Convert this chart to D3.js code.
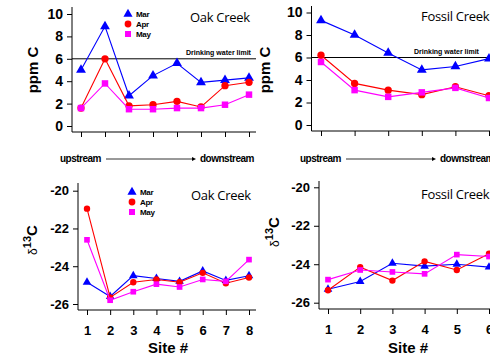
<!doctype html>
<html>
<head>
<meta charset="utf-8">
<script src="https://d3js.org/d3.v7.min.js"></script>
<style>
  body { margin: 0; background: #fff; }
  svg { display: block; font-family: "Liberation Sans", Arial, sans-serif; }
  .tick text { font-weight: bold; }
</style>
</head>
<body>
<div id="chart"></div>
<script>
// --- data ---
const months = ["Mar", "Apr", "May"];
const oakSites = [1, 2, 3, 4, 5, 6, 7, 8];
const fossilSites = [1, 2, 3, 4, 5, 6];

// ppm C
const oakPpmMar = [5.0, 8.9, 2.7, 4.5, 5.6, 3.9, 4.1, 4.3];
const oakPpmApr = [1.6, 6.0, 1.8, 1.9, 2.2, 1.7, 3.6, 3.9];
const oakPpmMay = [1.6, 3.8, 1.5, 1.5, 1.6, 1.6, 1.9, 2.8];
const fosPpmMar = [9.3, 8.0, 6.4, 4.9, 5.2, 5.9];
const fosPpmApr = [6.2, 3.7, 3.1, 2.7, 3.4, 2.6];
const fosPpmMay = [5.6, 3.1, 2.5, 2.9, 3.3, 2.4];

// delta 13C
const oakD13Mar = [-24.85, -25.6, -24.5, -24.65, -24.8, -24.25, -24.75, -24.5];
const oakD13Apr = [-20.95, -25.65, -24.85, -24.7, -24.85, -24.35, -24.9, -24.6];
const oakD13May = [-22.6, -25.8, -25.35, -24.95, -25.1, -24.7, -24.8, -23.65];
const fosD13Mar = [-25.3, -24.9, -23.95, -24.1, -24.0, -24.15];
const fosD13Apr = [-25.35, -24.15, -24.85, -23.85, -24.3, -23.45];
const fosD13May = [-24.8, -24.3, -24.4, -24.5, -23.5, -23.6];

const ppmTicks = [0, 2, 4, 6, 8, 10];
const d13Ticks = [-26, -24, -22, -20];
const drinkingLimit = 6;

const colors = { Mar: "#0000ff", Apr: "#ff0000", May: "#ff00ff" };
const shapes = { Mar: d3.symbolTriangle, Apr: d3.symbolCircle, May: d3.symbolSquare };

const svg = d3.select("#chart").append("svg")
  .attr("width", 490).attr("height", 356);

function panel(o) {
  const g = svg.append("g");
  const x = d3.scaleLinear().domain([o.sites[0], o.sites[o.sites.length - 1]]).range(o.xr);
  const y = d3.scaleLinear().domain(o.ydom).range(o.yr);

  // axes (tick marks and labels from d3, axis lines drawn longer like the original)
  const ya = g.append("g").attr("transform", `translate(${o.axX},0)`)
    .call(d3.axisLeft(y).tickValues(o.yticks).tickSize(5).tickPadding(4).tickFormat(d => String(d)));
  ya.select(".domain").remove();
  ya.selectAll("text").style("font-size", o.ppm ? "14px" : "13px");
  g.append("line").attr("x1", o.axX).attr("x2", o.axX)
    .attr("y1", o.axTop).attr("y2", o.axY).attr("stroke", "#000");

  const xa = g.append("g").attr("transform", `translate(0,${o.axY})`)
    .call(d3.axisBottom(x).tickValues(o.sites).tickSize(5).tickPadding(11)
      .tickFormat(o.xlabels ? d3.format("d") : ""));
  xa.select(".domain").remove();
  xa.selectAll("text").style("font-size", "13px");
  g.append("line").attr("x1", o.axX).attr("x2", o.axRight)
    .attr("y1", o.axY).attr("y2", o.axY).attr("stroke", "#000");

  if (o.limit) {
    g.append("line").attr("x1", o.axX).attr("x2", o.axRight)
      .attr("y1", y(drinkingLimit)).attr("y2", y(drinkingLimit))
      .attr("stroke", "#000").attr("stroke-width", 1);
    g.append("text").attr("x", o.limitX).attr("y", y(drinkingLimit) - 4)
      .style("font-size", "7px").style("font-weight", "bold")
      .text("Drinking water limit");
  }

  const line = d3.line().x((d, i) => x(o.sites[i])).y(d => y(d));
  months.forEach((m, k) => {
    const vals = o.series[k];
    g.append("path").attr("d", line(vals)).attr("fill", "none")
      .attr("stroke", colors[m]).attr("stroke-width", 1.1);
    g.selectAll(null).data(vals).enter().append("path")
      .attr("transform", (d, i) => `translate(${x(o.sites[i])},${y(d)})`)
      .attr("d", d3.symbol().type(shapes[m]).size(o.msize))
      .attr("fill", colors[m]);
  });

  g.append("text").attr("x", o.titleX).attr("y", o.titleY)
    .style("font-family", "'Open Sans', sans-serif").style("font-size", "13px")
    .style("letter-spacing", "-0.3px").text(o.title);

  if (o.legend) {
    months.forEach((m, k) => {
      const ly = o.legend[1] + k * 10;
      g.append("path").attr("transform", `translate(${o.legend[0]},${ly})`)
        .attr("d", d3.symbol().type(shapes[m]).size(36)).attr("fill", colors[m]);
      g.append("text").attr("x", o.legend[0] + 8).attr("y", ly + 3)
        .style("font-size", "8px").style("font-weight", "bold").style("letter-spacing", "-0.3px")
        .text(m);
    });
  }

  // y label
  const yl = g.append("text").attr("transform", `translate(${o.ylabX},${o.ylabY}) rotate(-90)`)
    .attr("text-anchor", "middle").style("font-weight", "bold").style("font-size", "15px");
  if (o.ppm) {
    yl.text("ppm C");
  } else {
    yl.append("tspan").style("font-size", "12px").style("font-weight", "normal").text("\u03b4");
    yl.append("tspan").attr("dy", -6).style("font-size", "11px").text("13");
    yl.append("tspan").attr("dy", 6).text("C");
  }

  if (o.stream) {
    const sy = o.stream[1];
    const sx = o.stream[0];
    g.append("text").attr("x", sx).attr("y", sy)
      .style("font-size", "10px").style("font-weight", "bold").style("letter-spacing", "-0.5px")
      .text("upstream");
    g.append("line").attr("x1", sx + 46).attr("x2", sx + 133).attr("y1", sy - 3).attr("y2", sy - 3)
      .attr("stroke", "#000").attr("stroke-width", 0.8);
    g.append("path").attr("d", `M${sx + 136},${sy - 3}l-4,-2v4z`).attr("fill", "#000");
    g.append("text").attr("x", sx + 140).attr("y", sy)
      .style("font-size", "10px").style("font-weight", "bold").style("letter-spacing", "-0.5px")
      .text("downstream");
  }
  if (o.siteLabel) {
    g.append("text").attr("x", o.siteLabel[0]).attr("y", o.siteLabel[1])
      .attr("text-anchor", "middle").style("font-size", "15px").style("font-weight", "bold")
      .text("Site #");
  }
}

panel({
  sites: oakSites, series: [oakPpmMar, oakPpmApr, oakPpmMay],
  xr: [81, 249], ydom: [0, 10], yr: [126, 14], yticks: ppmTicks,
  axX: 72, axY: 132, axTop: 7, axRight: 256, msize: 42,
  limit: true, limitX: 186, title: "Oak Creek", titleX: 190, titleY: 22,
  legend: [128, 14], ppm: true, ylabX: 38, ylabY: 70, stream: [60, 162]
});
panel({
  sites: fossilSites, series: [fosPpmMar, fosPpmApr, fosPpmMay],
  xr: [321, 489], ydom: [0, 10], yr: [125, 12.5], yticks: ppmTicks,
  axX: 311.5, axY: 131, axTop: 6, axRight: 500, msize: 42,
  limit: true, limitX: 414, title: "Fossil Creek", titleX: 421, titleY: 21,
  ppm: true, ylabX: 270, ylabY: 70, stream: [300, 162]
});
panel({
  sites: oakSites, series: [oakD13Mar, oakD13Apr, oakD13May],
  xr: [87, 249], ydom: [-26, -20], yr: [304, 190.7], yticks: d13Ticks,
  axX: 78, axY: 310, axTop: 183, axRight: 256, msize: 32,
  xlabels: true, title: "Oak Creek", titleX: 191, titleY: 200,
  legend: [132, 192], ylabX: 37, ylabY: 240, siteLabel: [168, 353]
});
panel({
  sites: fossilSites, series: [fosD13Mar, fosD13Apr, fosD13May],
  xr: [328, 489], ydom: [-26, -20], yr: [302.7, 187.3], yticks: d13Ticks,
  axX: 319, axY: 309, axTop: 181, axRight: 500, msize: 32,
  xlabels: true, title: "Fossil Creek", titleX: 421, titleY: 199,
  ylabX: 279, ylabY: 232, siteLabel: [408, 353]
});
</script>
</body>
</html>
